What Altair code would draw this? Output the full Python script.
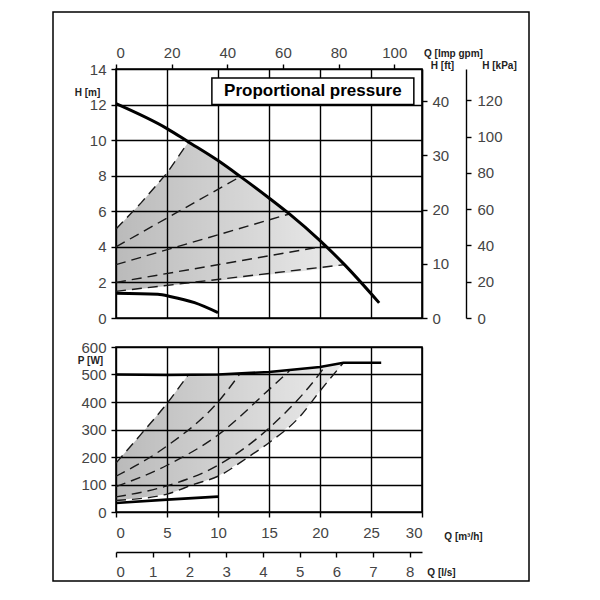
import altair as alt
import pandas as pd

# ---------------- top panel: H [m] vs Q [m3/h] ----------------
TOP_MAX_Q = [0, 5, 7.1, 10, 12.2, 15, 17, 20, 22.4, 25.8]
TOP_MAX_H = [12.05, 10.65, 9.9, 8.85, 7.95, 6.75, 5.85, 4.35, 3.0, 0.85]

TOP_MIN_Q = [0, 4.1, 5.4, 7.7, 10.0]
TOP_MIN_H = [1.39, 1.33, 1.2, 0.86, 0.3]

TOP_DASH = {
    "c1": ([0, 2.5, 5, 7.1], [5.0, 6.5, 8.15, 9.9]),
    "c2": ([0, 12.2], [4.0, 7.95]),
    "c3": ([0, 17], [3.0, 5.85]),
    "c4": ([0, 20.5], [2.0, 4.05]),
    "c5": ([0, 22.4], [1.5, 3.0]),
}

TOP_AREA_Q = [0, 2.5, 5, 7.1, 10, 12.2, 15, 17, 20, 22.4]
TOP_AREA_HI = [5.0, 6.5, 8.15, 9.9, 8.85, 7.95, 6.75, 5.85, 4.35, 3.0]
TOP_AREA_LO = [1.5, 1.65, 1.8, 1.95, 2.1, 2.25, 2.45, 2.55, 2.75, 3.0]

# ---------------- bottom panel: P [W] vs Q [m3/h] ----------------
BOT_MAX_Q = [0, 5, 10, 15, 20, 22.3, 26]
BOT_MAX_P = [500, 498, 500, 509, 527, 543, 543]

BOT_MIN_Q = [0, 5, 10]
BOT_MIN_P = [33, 45, 56]

BOT_DASH = {
    "a": ([0, 2.5, 5, 7.1], [178, 285, 395, 500]),
    "b": ([0, 5, 10, 12.2], [130, 240, 400, 505]),
    "c": ([0, 5, 10, 15, 17], [92, 170, 280, 445, 513]),
    "d": ([0, 5, 10, 15, 20, 20.5], [55, 95, 170, 305, 505, 530]),
    "e": ([0, 5, 7.6, 10, 12.9, 15, 18, 20, 22.3], [42, 65, 100, 130, 198, 252, 346, 440, 543]),
}

BOT_AREA_Q = [0, 2.5, 5, 7.1, 10, 12.9, 15, 18, 20, 22.3]
BOT_AREA_HI = [178, 285, 395, 500, 500, 505, 509, 519, 527, 543]
BOT_AREA_LO = [42, 53, 65, 92, 130, 198, 252, 346, 440, 543]

# ---------------- axis ticks ----------------
Q_TICKS = [0, 5, 10, 15, 20, 25, 30]
H_TICKS = [0, 2, 4, 6, 8, 10, 12, 14]
P_TICKS = [0, 100, 200, 300, 400, 500, 600]
GPM_TICKS = [0, 20, 40, 60, 80, 100]
FT_TICKS = [0, 10, 20, 30, 40]
KPA_TICKS = [0, 20, 40, 60, 80, 100, 120]
LS_TICKS = [0, 1, 2, 3, 4, 5, 6, 7, 8]

Q_MAX = 30
H_MAX_M = 14
GPM_MAX = Q_MAX * 3.6662
FT_MAX = H_MAX_M * 3.28084
KPA_MAX = H_MAX_M * 9.80665
LS_MAX = Q_MAX / 3.6

FONT = "Liberation Sans"
W = 306
H_TOP = 249
H_BOT = 165


def dash_df(d, yname):
    rows = []
    for k, (qs, vs) in d.items():
        for i, (q, v) in enumerate(zip(qs, vs)):
            rows.append({"Q": q, yname: v, "curve": k, "i": i})
    return pd.DataFrame(rows)


grad = alt.Gradient(
    gradient="linear",
    stops=[
        alt.GradientStop(offset=0, color="rgba(0,0,0,0.27)"),
        alt.GradientStop(offset=1, color="rgba(0,0,0,0.08)"),
    ],
    x1=0, x2=1, y1=0, y2=0,
)

# ---------- top panel ----------
xs_top = alt.Scale(domain=[0, Q_MAX], nice=False, zero=False)
ys_top = alt.Scale(domain=[0, H_MAX_M], nice=False, zero=False)
x_top = alt.X("Q:Q", scale=xs_top,
              axis=alt.Axis(values=Q_TICKS, labels=False, ticks=False, domain=False,
                            grid=True, title="", orient="bottom"))
y_top = alt.Y("H:Q", scale=ys_top,
              axis=alt.Axis(values=H_TICKS, grid=True, tickSize=5, labelPadding=5,
                            domain=False, orient="left", title="H [m]", titleAngle=0,
                            titleX=-29, titleY=23, titleAlign="center",
                            titleBaseline="middle"))

top_area = alt.Chart(pd.DataFrame({"Q": TOP_AREA_Q, "H": TOP_AREA_HI, "H2": TOP_AREA_LO})).mark_area(
    color=grad).encode(x=x_top, y=y_top, y2="H2:Q")
top_dash = alt.Chart(dash_df(TOP_DASH, "H")).mark_line(
    color="#1a1a1a", strokeWidth=1.4, strokeDash=[10, 6]).encode(
    x=x_top, y=y_top, detail="curve:N", order="i:Q")
top_max = alt.Chart(pd.DataFrame({"Q": TOP_MAX_Q, "H": TOP_MAX_H})).mark_line(
    color="black", strokeWidth=3, interpolate="monotone").encode(x=x_top, y=y_top)
top_min = alt.Chart(pd.DataFrame({"Q": TOP_MIN_Q, "H": TOP_MIN_H})).mark_line(
    color="black", strokeWidth=3, interpolate="monotone").encode(x=x_top, y=y_top)

box_df = pd.DataFrame({"Q": [9.4], "Q2": [29.2], "H": [13.5], "H2": [12.0]})
box = alt.Chart(box_df).mark_rect(fill="white", stroke="black", strokeWidth=1.5).encode(
    x=x_top, x2="Q2:Q", y=y_top, y2="H2:Q")
box_txt = alt.Chart(pd.DataFrame({"Q": [19.3], "H": [12.75], "t": ["Proportional pressure"]})).mark_text(
    font=FONT, fontSize=17, fontWeight="bold", color="black").encode(x=x_top, y=y_top, text="t:N")

frame = alt.Chart(pd.DataFrame({"k": [0]})).mark_rect(
    filled=False, stroke="black", strokeWidth=1.5).encode(
    x=alt.value(-63), x2=alt.value(413), y=alt.value(-57), y2=alt.value(512))

top_main = alt.layer(top_area, top_dash, top_max, top_min, box, box_txt, frame)

gpm_layer = alt.Chart(pd.DataFrame({"gpm": [0, GPM_MAX]})).mark_point(opacity=0).encode(
    x=alt.X("gpm:Q", scale=alt.Scale(domain=[0, GPM_MAX], nice=False, zero=False),
            axis=alt.Axis(orient="top", values=GPM_TICKS, grid=False, tickSize=5,
                          labelPadding=4, domain=False, title="Q [Imp gpm]",
                          titleX=337, titleY=-16, titleAlign="center",
                          titleBaseline="middle")),
    y=alt.value(0))
ft_layer = alt.Chart(pd.DataFrame({"ft": [0, FT_MAX]})).mark_point(opacity=0).encode(
    y=alt.Y("ft:Q", scale=alt.Scale(domain=[0, FT_MAX], nice=False, zero=False),
            axis=alt.Axis(orient="right", values=FT_TICKS, grid=False, tickSize=5,
                          labelPadding=5, domain=True, title="H [ft]", titleAngle=0,
                          titleX=20, titleY=-4, titleAlign="center",
                          titleBaseline="middle")),
    x=alt.value(0))
kpa_layer = alt.Chart(pd.DataFrame({"kpa": [0, KPA_MAX]})).mark_point(opacity=0).encode(
    y=alt.Y("kpa:Q", scale=alt.Scale(domain=[0, KPA_MAX], nice=False, zero=False),
            axis=alt.Axis(orient="right", offset=44, values=KPA_TICKS, grid=False,
                          tickSize=5, labelPadding=6, domain=True, title="H [kPa]",
                          titleAngle=0, titleX=33, titleY=-4, titleAlign="center",
                          titleBaseline="middle")),
    x=alt.value(0))

top = alt.layer(top_main, gpm_layer, ft_layer, kpa_layer).resolve_scale(
    x="independent", y="independent").properties(width=W, height=H_TOP)

# ---------- bottom panel ----------
xs_bot = alt.Scale(domain=[0, Q_MAX], nice=False, zero=False)
ys_bot = alt.Scale(domain=[0, 600], nice=False, zero=False)
x_bot = alt.X("Q:Q", scale=xs_bot,
              axis=alt.Axis(values=Q_TICKS, grid=True, tickSize=5, labelPadding=8,
                            domain=False, orient="bottom", title="Q [m³/h]",
                            titleX=347, titleY=24, titleAlign="center",
                            titleBaseline="middle"))
y_bot = alt.Y("P:Q", scale=ys_bot,
              axis=alt.Axis(values=P_TICKS, grid=True, tickSize=5, labelPadding=5,
                            domain=False, orient="left", title="P [W]", titleAngle=0,
                            titleX=-26, titleY=13, titleAlign="center",
                            titleBaseline="middle"))

bot_area = alt.Chart(pd.DataFrame({"Q": BOT_AREA_Q, "P": BOT_AREA_HI, "P2": BOT_AREA_LO})).mark_area(
    color=grad).encode(x=x_bot, y=y_bot, y2="P2:Q")
bot_dash = alt.Chart(dash_df(BOT_DASH, "P")).mark_line(
    color="#1a1a1a", strokeWidth=1.4, strokeDash=[10, 6], interpolate="monotone").encode(
    x=x_bot, y=y_bot, detail="curve:N", order="i:Q")
bot_max = alt.Chart(pd.DataFrame({"Q": BOT_MAX_Q, "P": BOT_MAX_P})).mark_line(
    color="black", strokeWidth=2.6).encode(x=x_bot, y=y_bot)
bot_min = alt.Chart(pd.DataFrame({"Q": BOT_MIN_Q, "P": BOT_MIN_P})).mark_line(
    color="black", strokeWidth=2.6).encode(x=x_bot, y=y_bot)

bot_main = alt.layer(bot_area, bot_dash, bot_max, bot_min)

ls_layer = alt.Chart(pd.DataFrame({"ls": [0, LS_MAX]})).mark_point(opacity=0).encode(
    x=alt.X("ls:Q", scale=alt.Scale(domain=[0, LS_MAX], nice=False, zero=False),
            axis=alt.Axis(orient="bottom", offset=40, values=LS_TICKS, grid=False,
                          tickSize=5, labelPadding=7, domain=True, title="Q [l/s]",
                          titleX=325, titleY=20, titleAlign="center",
                          titleBaseline="middle")),
    y=alt.value(0))

bottom = alt.layer(bot_main, ls_layer).resolve_scale(x="independent").properties(
    width=W, height=H_BOT)

chart = alt.vconcat(top, bottom, spacing=29, bounds="flush").properties(
    padding={"left": 43, "top": 2, "right": 5, "bottom": 5},
    background="white",
).configure_axis(
    labelFont=FONT, labelFontSize=15, labelColor="#444",
    titleFont=FONT, titleFontSize=10, titleFontWeight="bold", titleColor="#222",
    gridColor="black", gridWidth=1.4, gridOpacity=1,
    tickColor="black", tickWidth=1.4, domainColor="black", domainWidth=1.4,
).configure_view(stroke="black", strokeWidth=1.6)

chart.save("out.html", embed_options={"renderer": "svg", "actions": False})
